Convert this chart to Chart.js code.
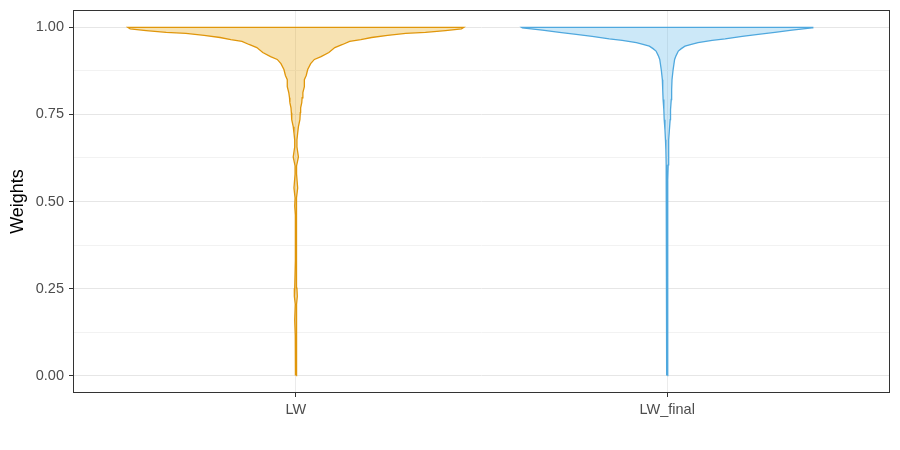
<!DOCTYPE html>
<html>
<head>
<meta charset="utf-8">
<script src="https://cdn.jsdelivr.net/npm/chart.js@4.4.1/dist/chart.umd.min.js"></script>
<style>
  html, body { margin: 0; padding: 0; background: #fff; }
</style>
</head>
<body>
<canvas id="violin" width="900" height="450"></canvas>
<script>
// categories on the x axis
const categories = ["LW", "LW_final"];

// violin outline for LW: weight (y) and half width of the density (in category units)
const lwWeight = [0.000, 0.115, 0.159, 0.205, 0.228, 0.251, 0.331, 0.461, 0.487, 0.510,
  0.539, 0.579, 0.602, 0.628, 0.657, 0.677, 0.697, 0.715, 0.735, 0.755,
  0.769, 0.784, 0.798, 0.813, 0.830, 0.850, 0.862, 0.879, 0.896, 0.908,
  0.916, 0.928, 0.942, 0.951, 0.960, 0.965, 0.971, 0.977, 0.983, 0.986,
  0.991, 0.996, 1.000];
const lwHalfWidth = [0.001, 0.0015, 0.003, 0.0015, 0.004, 0.003, 0.0012, 0.0012, 0.003, 0.002,
  0.005, 0.002, 0.002, 0.007, 0.003, 0.003, 0.005, 0.007, 0.011, 0.012,
  0.013, 0.016, 0.017, 0.019, 0.023, 0.023, 0.028, 0.032, 0.040, 0.050,
  0.068, 0.089, 0.105, 0.126, 0.145, 0.175, 0.204, 0.247, 0.296, 0.349,
  0.403, 0.446, 0.452];

// violin outline for LW_final
const finalWeight = [0.000, 0.216, 0.331, 0.418, 0.504, 0.562, 0.605, 0.648, 0.677, 0.706,
  0.735, 0.764, 0.793, 0.821, 0.850, 0.879, 0.908, 0.919, 0.932, 0.939,
  0.946, 0.951, 0.956, 0.963, 0.967, 0.974, 0.980, 0.986, 0.992, 0.9986,
  1.000];
const finalHalfWidth = [0.0008, 0.001, 0.0016, 0.0013, 0.0016, 0.002, 0.0027, 0.0035, 0.0046, 0.006,
  0.008, 0.009, 0.011, 0.012, 0.013, 0.016, 0.020, 0.024, 0.030, 0.038,
  0.048, 0.065, 0.083, 0.121, 0.156, 0.202, 0.245, 0.290, 0.336, 0.390,
  0.392];

// y ticks (labelled ones and the minor grid between them)
const yMajorTicks = [0, 0.25, 0.5, 0.75, 1];
const yMinorTicks = [0.125, 0.375, 0.625, 0.875];

//turn a weight/width profile into a closed outline around category position pos
const violinOutline = (pos, weights, halfWidths) => {
  const right = weights.map((w, i) => ({ x: pos + halfWidths[i], y: w }));
  const left = weights.map((w, i) => ({ x: pos - halfWidths[i], y: w })).reverse();
  return right.concat(left);
};

//frame around the panel like theme_bw
const panelBorder = {
  id: "panelBorder",
  afterDraw(chart) {
    const { ctx, chartArea: a } = chart;
    ctx.save();
    ctx.strokeStyle = "#333333";
    ctx.lineWidth = 1;
    ctx.strokeRect(Math.round(a.left) + 0.5, Math.round(a.top) + 0.5,
      Math.round(a.right - a.left) - 1, Math.round(a.bottom - a.top) - 1);
    ctx.restore();
  }
};

const tickFont = { family: "'Liberation Sans', Arial, sans-serif", size: 14.5 };

new Chart(document.getElementById("violin"), {
  type: "scatter",
  plugins: [panelBorder],
  data: {
    datasets: [
      {
        label: categories[0],
        data: violinOutline(1, lwWeight, lwHalfWidth),
        showLine: true,
        fill: "shape",
        borderColor: "#E0960A",
        backgroundColor: "rgba(230,159,0,0.3)",
        borderWidth: 1.3,
        pointRadius: 0,
        tension: 0
      },
      {
        label: categories[1],
        data: violinOutline(2, finalWeight, finalHalfWidth),
        showLine: true,
        fill: "shape",
        borderColor: "#4FA8DE",
        backgroundColor: "rgba(86,180,233,0.3)",
        borderWidth: 1.3,
        pointRadius: 0,
        tension: 0
      }
    ]
  },
  options: {
    responsive: false,
    animation: false,
    layout: { padding: { top: 10, right: 10, bottom: 0, left: 0 } },
    plugins: {
      legend: { display: false },
      tooltip: { enabled: false }
    },
    scales: {
      x: {
        type: "linear",
        min: 0.4,
        max: 2.6,
        afterBuildTicks: (axis) => { axis.ticks = categories.map((_, i) => ({ value: i + 1 })); },
        afterFit: (axis) => { axis.height = 57; axis.paddingLeft = 0; axis.paddingRight = 0; },
        border: { display: false },
        grid: { color: "#ebebeb", lineWidth: 1, tickColor: "#333333", tickLength: 4 },
        ticks: {
          autoSkip: false,
          maxRotation: 0,
          padding: 4,
          color: "#4d4d4d",
          font: tickFont,
          callback: (v) => categories[Math.round(v) - 1]
        }
      },
      y: {
        min: -0.05,
        max: 1.05,
        afterBuildTicks: (axis) => {
          axis.ticks = yMajorTicks.concat(yMinorTicks).sort((a, b) => a - b).map(v => ({ value: v }));
        },
        afterFit: (axis) => { axis.width = 73; axis.paddingTop = 0; axis.paddingBottom = 0; },
        border: { display: false },
        grid: {
          color: (ctx) => yMajorTicks.includes(ctx.tick.value) ? "#e6e6e6" : "#f2f2f2",
          lineWidth: 1,
          tickColor: (ctx) => yMajorTicks.includes(ctx.tick.value) ? "#333333" : "rgba(0,0,0,0)",
          tickLength: 4
        },
        ticks: {
          autoSkip: false,
          padding: 5,
          color: "#4d4d4d",
          font: tickFont,
          callback: (v) => yMajorTicks.includes(v) ? v.toFixed(2) : ""
        },
        title: {
          display: true,
          text: "Weights",
          color: "#000000",
          font: { family: "'Liberation Sans', Arial, sans-serif", size: 18 },
          padding: { top: 7, bottom: 0 }
        }
      }
    }
  }
});
</script>
</body>
</html>
